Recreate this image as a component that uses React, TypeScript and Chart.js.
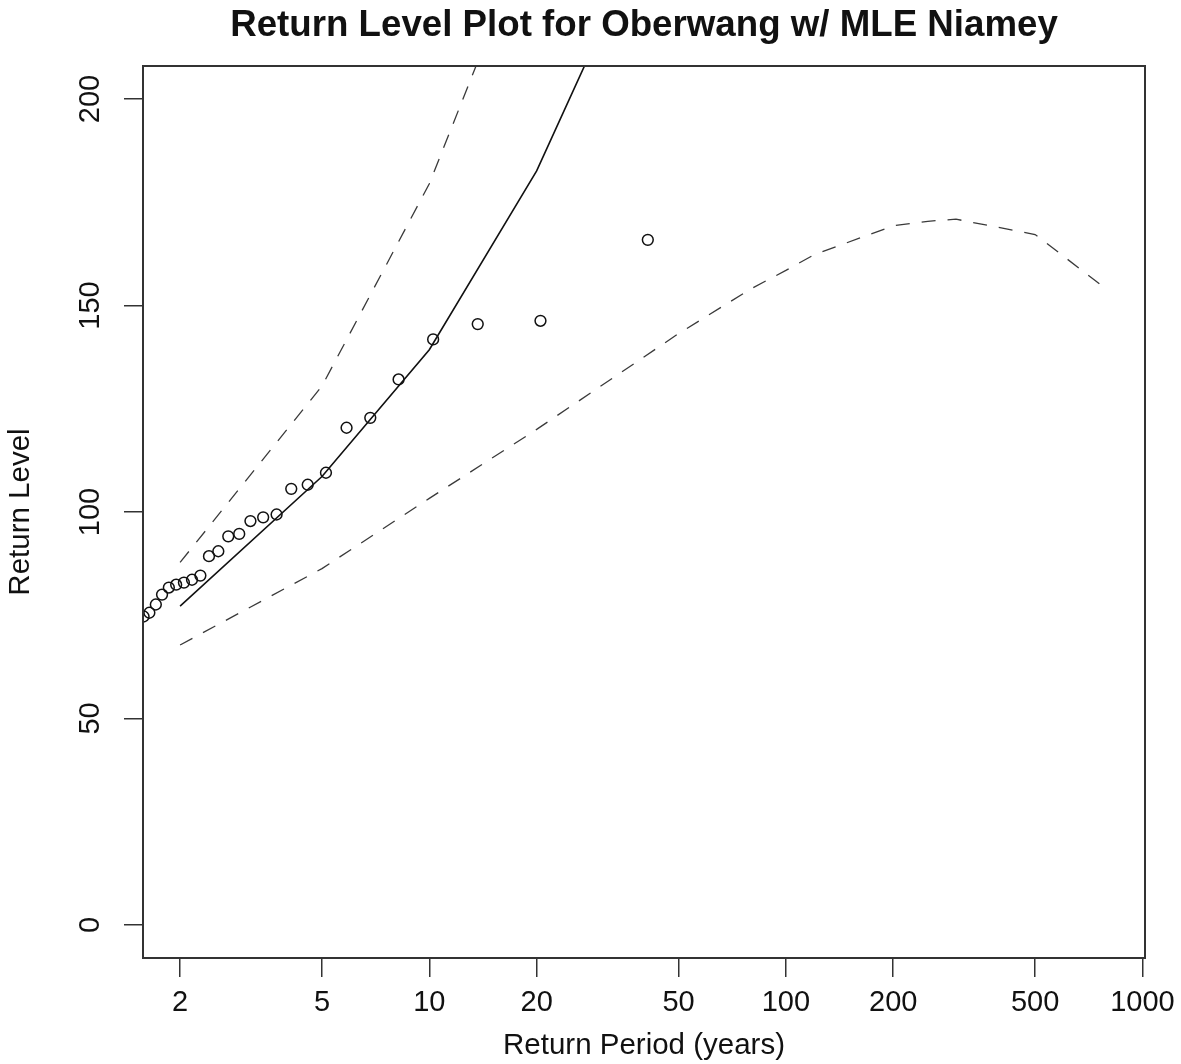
import React, { useEffect, useRef } from "react";
import { Chart, registerables } from "chart.js";

Chart.register(...registerables);

// ---------- text ----------
const chartTitle = "Return Level Plot for Oberwang w/ MLE Niamey";
const xAxisTitle = "Return Period (years)";
const yAxisTitle = "Return Level";

// ---------- ticks ----------
const xTickValues = [2, 5, 10, 20, 50, 100, 200, 500, 1000];
const yTickValues = [0, 50, 100, 150, 200];

// ---------- model curves (return period in years -> return level) ----------
const returnPeriods = [2, 5, 10, 20, 50, 80, 100, 120, 200, 250, 300, 500, 800];
const fittedLevels = [77.2, 108.6, 139.3, 182.6, 258, null, null, null, null, null, null, null, null];
const lowerLevels = [67.8, 86.3, 103.3, 120.0, 143.2, 154.1, 158.5, 162.3, 169.3, 170.4, 170.9, 167.2, 153.7];
const upperLevels = [87.8, 130.5, 179.5, 245, null, null, null, null, null, null, null, null, null];

// ---------- empirical points ----------
const empiricalPeriods = [
  1.58, 1.64, 1.71, 1.78, 1.86, 1.95, 2.05, 2.16, 2.28, 2.41, 2.56, 2.73, 2.93,
  3.15, 3.42, 3.73, 4.1, 4.56, 5.13, 5.86, 6.83, 8.2, 10.25, 13.67, 20.5, 41,
];
const empiricalLevels = [
  74.7, 75.6, 77.6, 80.0, 81.7, 82.4, 82.9, 83.6, 84.6, 89.3, 90.5, 94.1, 94.7,
  97.8, 98.7, 99.4, 105.6, 106.6, 109.5, 120.4, 122.8, 132.1, 141.8, 145.5, 146.3, 165.9,
];

const FONT = '"Liberation Sans", Arial, sans-serif';

function pairs(xs: number[], ys: (number | null)[]) {
  const out: { x: number; y: number }[] = [];
  xs.forEach((x, i) => {
    const y = ys[i];
    if (y !== null && y !== undefined) out.push({ x, y });
  });
  return out;
}

function drawText(
  ctx: CanvasRenderingContext2D,
  text: string,
  x: number,
  y: number,
  font: string,
  rotated: boolean
) {
  ctx.save();
  ctx.translate(x, y);
  if (rotated) ctx.rotate(-Math.PI / 2);
  ctx.font = font;
  ctx.textAlign = "center";
  ctx.textBaseline = "alphabetic";
  ctx.fillStyle = "#111";
  ctx.fillText(text, 0, 0);
  ctx.restore();
}

const decorPlugin = {
  id: "decor",
  beforeDraw(chart: any) {
    const { ctx, width, height } = chart;
    ctx.save();
    ctx.fillStyle = "#ffffff";
    ctx.fillRect(0, 0, width, height);
    ctx.restore();
  },
  afterDraw(chart: any) {
    const { ctx, chartArea: a, scales } = chart;
    // plot box
    ctx.save();
    ctx.strokeStyle = "#333";
    ctx.lineWidth = 2;
    ctx.strokeRect(a.left, a.top, a.right - a.left, a.bottom - a.top);
    ctx.restore();

    const cx = (a.left + a.right) / 2;
    const cy = (a.top + a.bottom) / 2;

    // x tick labels
    scales.x.ticks.forEach((t: any) => {
      drawText(ctx, String(t.value), scales.x.getPixelForValue(t.value), 1011, `29px ${FONT}`, false);
    });
    // y tick labels (rotated)
    scales.y.ticks.forEach((t: any) => {
      drawText(ctx, String(t.value), 98.5, scales.y.getPixelForValue(t.value), `29px ${FONT}`, true);
    });
    // titles
    drawText(ctx, chartTitle, cx, 36, `bold 36.7px ${FONT}`, false);
    drawText(ctx, xAxisTitle, cx, 1054, `29.5px ${FONT}`, false);
    drawText(ctx, yAxisTitle, 29, cy, `29.5px ${FONT}`, true);
  },
};

export default function App() {
  const canvasRef = useRef<HTMLCanvasElement | null>(null);

  useEffect(() => {
    const canvas = canvasRef.current;
    if (!canvas) return;

    const dashed = {
      showLine: true,
      borderColor: "#3a3a3a",
      borderWidth: 1.3,
      borderDash: [14, 12],
      pointRadius: 0,
      pointHoverRadius: 0,
      fill: false,
      tension: 0,
      clip: 0,
    };

    const chart = new Chart(canvas, {
      type: "scatter",
      data: {
        datasets: [
          {
            label: "Empirical",
            data: pairs(empiricalPeriods, empiricalLevels),
            showLine: false,
            pointStyle: "circle",
            pointRadius: 5.4,
            pointBorderWidth: 1.5,
            pointBorderColor: "#111",
            pointBackgroundColor: "rgba(0,0,0,0)",
            clip: 0,
          } as any,
          {
            label: "Fitted",
            data: pairs(returnPeriods, fittedLevels),
            showLine: true,
            borderColor: "#111",
            borderWidth: 1.6,
            pointRadius: 0,
            pointHoverRadius: 0,
            fill: false,
            tension: 0,
            clip: 0,
          } as any,
          { label: "Lower CI", data: pairs(returnPeriods, lowerLevels), ...dashed } as any,
          { label: "Upper CI", data: pairs(returnPeriods, upperLevels), ...dashed } as any,
        ],
      },
      options: {
        animation: false,
        responsive: true,
        maintainAspectRatio: false,
        events: [],
        layout: { padding: { top: 66, right: 36, left: 0, bottom: 0 } },
        plugins: {
          legend: { display: false },
          tooltip: { enabled: false },
          title: { display: false },
        },
        scales: {
          x: {
            type: "logarithmic",
            min: 1.574,
            max: 1016.6,
            afterBuildTicks: (axis: any) => {
              axis.ticks = xTickValues.map((v) => ({ value: v }));
            },
            afterFit: (axis: any) => {
              axis.height = 106;
            },
            ticks: { display: false },
            grid: {
              display: true,
              drawOnChartArea: false,
              drawTicks: true,
              tickLength: 19,
              color: "#333",
              lineWidth: 1.5,
            },
            border: { display: false },
          },
          y: {
            type: "linear",
            min: -8,
            max: 208,
            afterBuildTicks: (axis: any) => {
              axis.ticks = yTickValues.map((v) => ({ value: v }));
            },
            afterFit: (axis: any) => {
              axis.width = 143;
            },
            ticks: { display: false },
            grid: {
              display: true,
              drawOnChartArea: false,
              drawTicks: true,
              tickLength: 19,
              color: "#333",
              lineWidth: 1.5,
            },
            border: { display: false },
          },
        },
      } as any,
      plugins: [decorPlugin],
    });

    return () => {
      chart.destroy();
    };
  }, []);

  return (
    <div
      style={{
        position: "absolute",
        left: 0,
        top: 0,
        width: 1181,
        height: 1064,
        background: "#fff",
      }}
    >
      <canvas ref={canvasRef} />
    </div>
  );
}
